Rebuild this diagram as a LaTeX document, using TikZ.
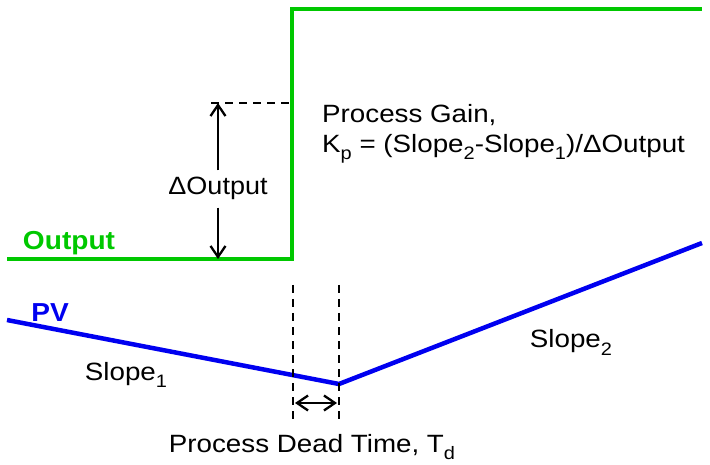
\documentclass[tikz,border=0pt]{standalone}
\usepackage{fontspec}
\setmainfont{Liberation Sans}
\usetikzlibrary{arrows.meta}
\definecolor{outgreen}{RGB}{0,200,0}
\definecolor{pvblue}{RGB}{0,0,240}
\newcommand\wide[1]{\scalebox{1.11}[1]{#1}}
\newcommand\idx[1]{\raisebox{-0.28em}{\fontsize{18}{20}\selectfont #1}}
\begin{document}
\begin{tikzpicture}
  [x=1pt,y=-1pt,every node/.style={inner sep=0pt,font=\fontsize{25}{30}\selectfont}]
  \tikzstyle{guide} = [draw=black,line width=2.5pt,dash pattern=on 8pt off 6pt]
  \tikzstyle{span} = [draw=black,line width=2.3pt,-{Straight Barb[length=11pt,width=15pt]}]
  \tikzstyle{trend} = [line width=4.5pt,line join=miter]
  \useasboundingbox (0,0) rectangle (710,465);

  % output step
  \coordinate (o1) at (7,259);
  \coordinate (o2) at (292,259);
  \coordinate (o3) at (292,9);
  \coordinate (o4) at (702,9);
  \draw[trend,draw=outgreen] (o1) -- (o2) -- (o3) -- (o4);

  % PV response
  \coordinate (p1) at (7,320);
  \coordinate (p2) at (339,384);
  \coordinate (p3) at (702,243);
  \draw[trend,draw=pvblue] (p1) -- (p2) -- (p3);

  % delta output
  \coordinate (d1) at (211,103);
  \coordinate (d2) at (290,103);
  \coordinate (d3) at (218,259);
  \draw[guide] (d1) -- (d2);
  \node (dout) at (218,188) {\scalebox{1.08}[1]{ΔOutput}};
  \draw[span] (dout.north -| d3) ++(0,-6) coordinate (u0) -- (u0 |- d1);
  \draw[span] (dout.south -| d3) ++(0,8) coordinate (w0) -- (d3);

  % dead time
  \coordinate (t1) at (293,285);
  \coordinate (t2) at (293,420);
  \coordinate (t3) at (339,285);
  \coordinate (t4) at (339,420);
  \draw[guide] (t1) -- (t2);
  \draw[guide] (t3) -- (t4);
  \coordinate (a1) at (295,403);
  \coordinate (a2) at (337,403);
  \draw[span,{Straight Barb[length=11pt,width=15pt]}-{Straight Barb[length=11pt,width=15pt]}] (a1) -- (a2);

  % labels
  \node[text=outgreen,font=\fontsize{26}{30}\selectfont\bfseries] (lout) at (69,243) {\scalebox{1.08}[1]{Output}};
  \node[text=pvblue,font=\fontsize{26}{30}\selectfont\bfseries] (lpv) at (50,313) {\scalebox{1.08}[1]{PV}};
  \node[anchor=base] (ls1) at (126,380) {\wide{Slope\idx{1}}};
  \node[anchor=base] (ls2) at (571,348) {\wide{Slope\idx{2}}};
  \node[anchor=base west] (gain) at (322,123) {\wide{Process Gain,}};
  \node[anchor=base west] (kp) at (322,153) {\wide{K\idx{p} = (Slope\idx{2}-Slope\idx{1})/ΔOutput}};
  \node[anchor=base] (dead) at (312,452) {\wide{Process Dead Time, T\idx{d}}};
\end{tikzpicture}
\end{document}
